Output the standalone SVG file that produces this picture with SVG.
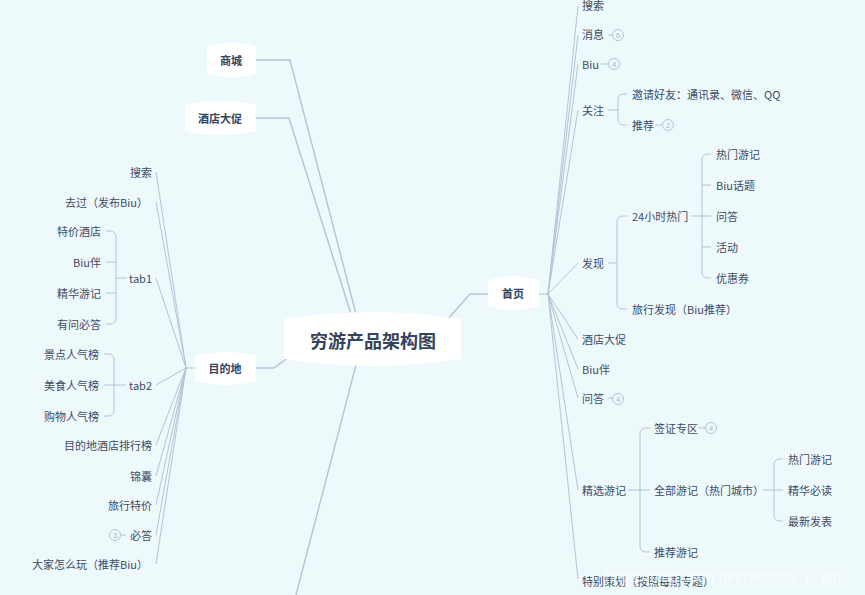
<svg xmlns="http://www.w3.org/2000/svg" width="865" height="595" viewBox="0 0 865 595">
<style>
.t{font-family:"Noto Sans CJK SC","Liberation Sans",sans-serif;font-size:11px;fill:#3d4b63;dominant-baseline:central}
.e{text-anchor:end}
.nd{fill:#ffffff;stroke:#ffffff;stroke-width:2;stroke-linejoin:round}
.nt{font-weight:bold;text-anchor:middle;fill:#35435b}
.ti{font-size:18px}
.l{stroke:#b4c3d6;fill:none;stroke-width:1}
.m{stroke-width:1.4}
.bc{fill:none;stroke:#b4c3d6;stroke-width:1}
.bt{font-family:"Liberation Sans",sans-serif;font-size:7.5px;fill:#a6b6cb;text-anchor:middle;dominant-baseline:central}
.wm{font-family:"Liberation Sans",sans-serif;font-size:15px;fill:#ffffff;fill-opacity:0.75}
</style>
<rect width="865" height="595" fill="#eef9fc"/>
<g id="connectors">
<path class="l m" d="M255,60 H290 L356,314"/>
<path class="l m" d="M255,118 H289 L351,314"/>
<path class="l m" d="M255,368 H274 L289,357"/>
<path class="l m" d="M356,365 L296,595"/>
<path class="l m" d="M447,320 L470,294 H489"/>
<path class="l" d="M538,294 H548"/>
<path class="l" d="M548,294 L578,6 M548,294 L578,35 M548,294 L578,64 M548,294 L578,110 M548,294 L578,263 M548,294 L578,339 M548,294 L578,369 M548,294 L578,398 M548,294 L578,490 M548,294 L578,579"/>
<path class="l" d="M608,35 H612 M601,64 H608 M655,125 H662 M608,398 H612 M698,428 H705 M126,535 H121"/>
<path class="l" d="M608,110 H618 M627,94 H624 Q618,94 618,100 V119 Q618,125 624,125 H627"/>
<path class="l" d="M608,263 H617 M627,216 H623 Q617,216 617,222 V303 Q617,309 623,309 H627"/>
<path class="l" d="M691,216 H711 M711,154 H708 Q702,154 702,160 V272 Q702,278 708,278 H711 M702,185 H711 M702,247 H711"/>
<path class="l" d="M628,490 H650 M650,428 H646 Q640,428 640,434 V546 Q640,552 646,552 H650"/>
<path class="l" d="M763,490 H783 M783,459 H780 Q774,459 774,465 V515 Q774,521 780,521 H783"/>
<path class="l" d="M196,368 H186"/>
<path class="l" d="M186,368 L156,172 M186,368 L156,202 M186,368 L156,278 M186,368 L156,385 M186,368 L156,445 M186,368 L156,476 M186,368 L156,505 M186,368 L156,535 M186,368 L156,564"/>
<path class="l" d="M127,278 H116 M106,231 H110 Q116,231 116,237 V318 Q116,324 110,324 H106 M116,262 H106 M116,293 H106"/>
<path class="l" d="M126,385 H104 M104,354 H108 Q114,354 114,360 V410 Q114,416 108,416 H104"/>
</g>
<g id="center">
<path class="nd" d="M285,320 Q372,306 460,320 L460,358 Q372,372 285,358 Z"/>
<text class="t nt ti" x="373" y="340">穷游产品架构图</text>
</g>
<g id="shangcheng">
<path class="nd" d="M208,48 Q231,40 255,48 L255,72 Q231,80 208,72 Z"/>
<text class="t nt" x="231" y="60">商城</text>
</g>
<g id="jiudian">
<path class="nd" d="M186,106 Q220,98 255,106 L255,130 Q220,138 186,130 Z"/>
<text class="t nt" x="220" y="118">酒店大促</text>
</g>
<g id="mudidi">
<path class="nd" d="M196,357 Q225,349 255,357 L255,380 Q225,388 196,380 Z"/>
<text class="t nt" x="225" y="368">目的地</text>
</g>
<g id="shouye">
<path class="nd" d="M489,281 Q513,273 538,281 L538,305 Q513,313 489,305 Z"/>
<text class="t nt" x="513" y="293">首页</text>
</g>
<g id="shouye-children">
<text class="t" x="582" y="5">搜索</text>
<text class="t" x="582" y="34">消息</text>
<circle class="bc" cx="618" cy="35" r="5.5"/><text class="bt" x="618" y="35">6</text>
<text class="t" x="582" y="64">Biu</text>
<circle class="bc" cx="614" cy="64" r="5.5"/><text class="bt" x="614" y="64">4</text>
<text class="t" x="582" y="110">关注</text>
<text class="t" x="632" y="94">邀请好友：通讯录、微信、QQ</text>
<text class="t" x="632" y="125">推荐</text>
<circle class="bc" cx="668" cy="125" r="5.5"/><text class="bt" x="668" y="125">2</text>
<text class="t" x="582" y="263">发现</text>
<text class="t" x="632" y="216">24小时热门</text>
<text class="t" x="716" y="154">热门游记</text>
<text class="t" x="716" y="185">Biu话题</text>
<text class="t" x="716" y="216">问答</text>
<text class="t" x="716" y="247">活动</text>
<text class="t" x="716" y="278">优惠券</text>
<text class="t" x="632" y="309">旅行发现（Biu推荐）</text>
<text class="t" x="582" y="339">酒店大促</text>
<text class="t" x="582" y="369">Biu伴</text>
<text class="t" x="582" y="398">问答</text>
<circle class="bc" cx="618" cy="399" r="5.5"/><text class="bt" x="618" y="399">4</text>
<text class="t" x="582" y="490">精选游记</text>
<text class="t" x="654" y="428">签证专区</text>
<circle class="bc" cx="711" cy="428" r="5.5"/><text class="bt" x="711" y="428">4</text>
<text class="t" x="654" y="490">全部游记（热门城市）</text>
<text class="t" x="788" y="459">热门游记</text>
<text class="t" x="788" y="490">精华必读</text>
<text class="t" x="788" y="521">最新发表</text>
<text class="t" x="654" y="552">推荐游记</text>
<text class="t" x="582" y="581">特别策划（按照每期专题）</text>
</g>
<g id="mudidi-children">
<text class="t e" x="152" y="172">搜索</text>
<text class="t e" x="148" y="202">去过（发布Biu）</text>
<text class="t e" x="152" y="278">tab1</text>
<text class="t e" x="101" y="231">特价酒店</text>
<text class="t e" x="101" y="262">Biu伴</text>
<text class="t e" x="101" y="293">精华游记</text>
<text class="t e" x="101" y="324">有问必答</text>
<text class="t e" x="152" y="385">tab2</text>
<text class="t e" x="99" y="354">景点人气榜</text>
<text class="t e" x="99" y="385">美食人气榜</text>
<text class="t e" x="99" y="416">购物人气榜</text>
<text class="t e" x="152" y="445">目的地酒店排行榜</text>
<text class="t e" x="152" y="476">锦囊</text>
<text class="t e" x="152" y="505">旅行特价</text>
<text class="t e" x="152" y="535">必答</text>
<circle class="bc" cx="115" cy="535" r="5.5"/><text class="bt" x="115" y="535">3</text>
<text class="t e" x="148" y="564">大家怎么玩（推荐Biu）</text>
</g>
<text class="wm" x="605" y="582">https://blog.csdn.net/netease_it_girl</text>
</svg>
